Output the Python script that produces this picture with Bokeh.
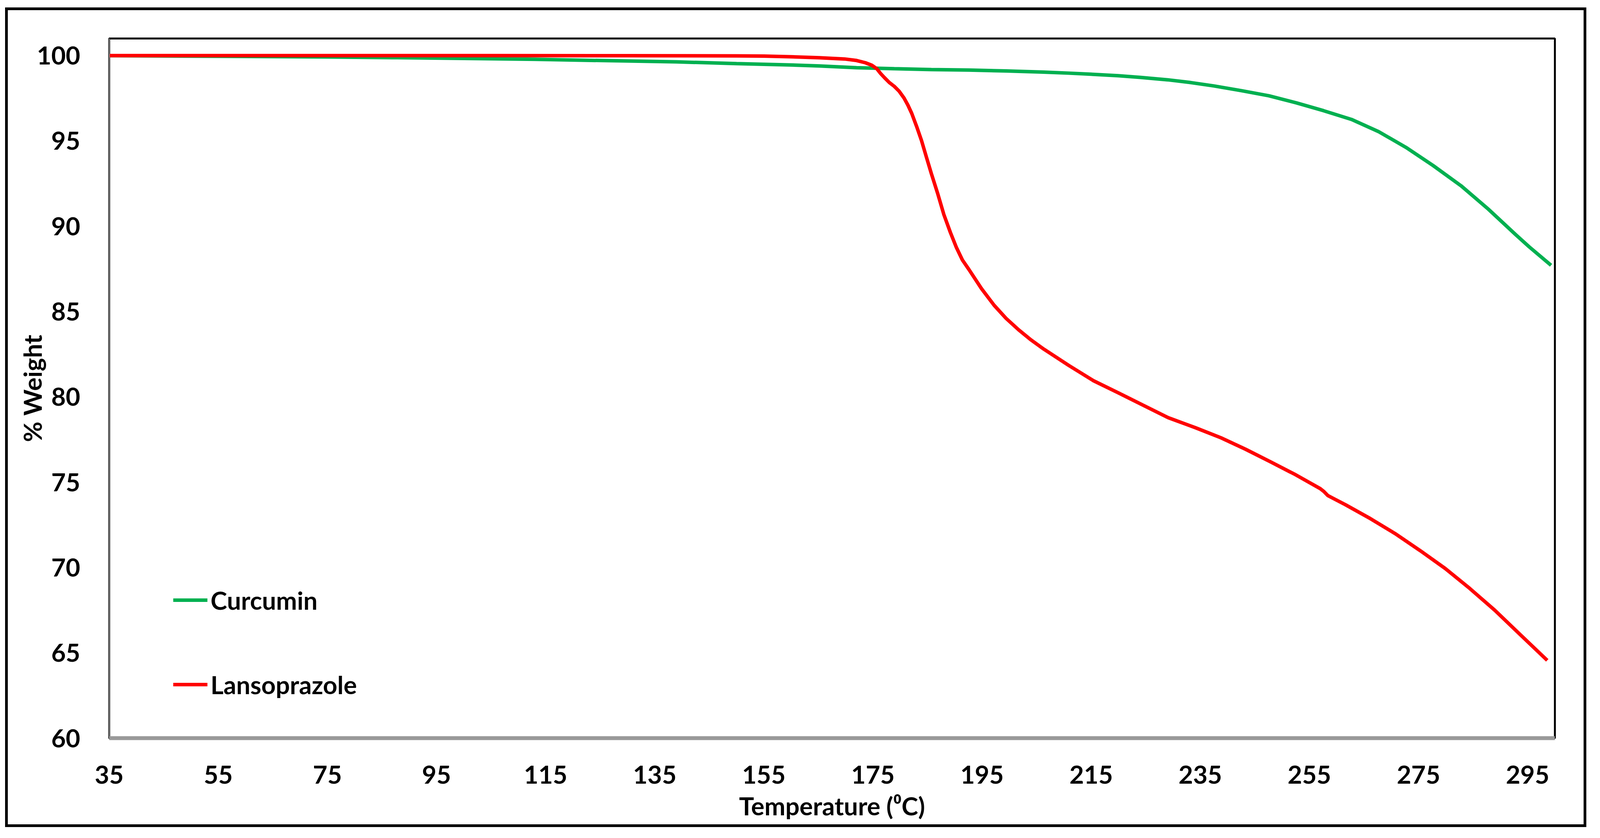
from bokeh.plotting import figure
from bokeh.models import Legend, LegendItem, FixedTicker, Range1d
from bokeh.embed import file_html
from bokeh.resources import INLINE

# TGA data (temperature in C, % weight)
curcumin_temp = [35, 55, 75, 87, 100, 113, 125, 139, 150, 160, 165.2, 172, 178.9,
                 185.7, 192.6, 199.4, 206.3, 210.9, 215.4, 220, 224, 229, 233, 237.5,
                 242.6, 247.6, 252.6, 257.6, 262.7, 267.7, 272.7, 277.7, 282.8, 287.8,
                 292.8, 295.3, 299.3]
curcumin_weight = [99.99, 99.96, 99.92, 99.88, 99.83, 99.78, 99.71, 99.63, 99.53, 99.45,
                   99.39, 99.29, 99.23, 99.18, 99.15, 99.10, 99.03, 98.97, 98.90, 98.82,
                   98.72, 98.58, 98.43, 98.22, 97.94, 97.64, 97.23, 96.77, 96.26, 95.54,
                   94.62, 93.55, 92.37, 91.0, 89.51, 88.79, 87.71]

lanso_temp = [35, 60, 100, 130, 150, 155, 160, 165.2, 169.8, 172, 173.6, 174.8, 175.7,
              176.4, 177.1, 178, 178.9, 179.8, 180.7, 181.4, 182.1, 183, 183.9, 184.8,
              185.7, 186.9, 188, 189.2, 190.3, 191.4, 192.6, 194.9, 197.2, 199.4, 201.7,
              204, 206.3, 210.9, 215.4, 220, 224.6, 229.1, 234.2, 238.8, 243.3, 247.9,
              252.5, 257, 257.7, 258.4, 261.6, 266.2, 270.7, 275.3, 279.9, 284.4, 289,
              293.6, 298.6]
lanso_weight = [100.0, 100.0, 100.0, 99.99, 99.98, 99.97, 99.93, 99.87, 99.80, 99.71,
                99.58, 99.43, 99.23, 98.95, 98.71, 98.42, 98.20, 97.91, 97.51, 97.10,
                96.62, 95.85, 95.02, 94.05, 93.09, 91.88, 90.68, 89.63, 88.75, 88.02,
                87.46, 86.34, 85.37, 84.60, 83.93, 83.33, 82.80, 81.84, 80.95, 80.23,
                79.50, 78.78, 78.18, 77.60, 76.93, 76.19, 75.43, 74.62, 74.44, 74.21,
                73.68, 72.86, 71.99, 70.99, 69.94, 68.77, 67.49, 66.08, 64.56]

x_ticks = [35, 55, 75, 95, 115, 135, 155, 175, 195, 215, 235, 255, 275, 295]
y_ticks = [60, 65, 70, 75, 80, 85, 90, 95, 100]

FONT = "Lato"
FSIZE = "64px"

p = figure(width=4048, height=2097, output_backend="svg", toolbar_location=None,
           x_range=Range1d(35, 300), y_range=Range1d(60, 101),
           x_axis_label="Temperature (\u2070C)", y_axis_label="% Weight",
           min_border_left=259, min_border_top=72, min_border_right=88, min_border_bottom=235)
p.margin = (19, 0, 0, 13)
p.styles = {"border": "7px solid black"}

p.grid.visible = False
p.outline_line_color = "black"
p.outline_line_width = 5

for ax in [p.xaxis[0], p.yaxis[0]]:
    ax.major_tick_line_color = None
    ax.minor_tick_line_color = None
    ax.major_label_text_font = FONT
    ax.major_label_text_font_style = "bold"
    ax.major_label_text_font_size = FSIZE
    ax.major_label_text_color = "black"
    ax.axis_label_text_font = FONT
    ax.axis_label_text_font_style = "bold"
    ax.axis_label_text_font_size = FSIZE
    ax.axis_label_text_color = "black"

p.xaxis.ticker = FixedTicker(ticks=x_ticks)
p.yaxis.ticker = FixedTicker(ticks=y_ticks)
p.xaxis.axis_line_color = "#999999"
p.xaxis.axis_line_width = 10
p.yaxis.axis_line_color = "#7f7f7f"
p.yaxis.axis_line_width = 3
p.xaxis.major_label_standoff = 64
p.yaxis.major_label_standoff = 68
p.xaxis.axis_label_standoff = 15
p.yaxis.axis_label_standoff = -30

r_cur = p.line(curcumin_temp, curcumin_weight, color="#00b050", line_width=9)
r_lan = p.line(lanso_temp, lanso_weight, color="#ff0000", line_width=9)

legend = Legend(items=[LegendItem(label="Curcumin", renderers=[r_cur]),
                       LegendItem(label="Lansoprazole", renderers=[r_lan])],
                location=(164, 97))
legend.border_line_color = None
legend.background_fill_alpha = 0
legend.padding = 0
legend.margin = 0
legend.spacing = 136
legend.glyph_width = 88
legend.glyph_height = 80
legend.label_height = 80
legend.label_standoff = 8
legend.label_text_font = FONT
legend.label_text_font_style = "bold"
legend.label_text_font_size = FSIZE
legend.label_text_color = "black"
p.add_layout(legend)

open("out.html", "w").write(file_html(p, INLINE))
